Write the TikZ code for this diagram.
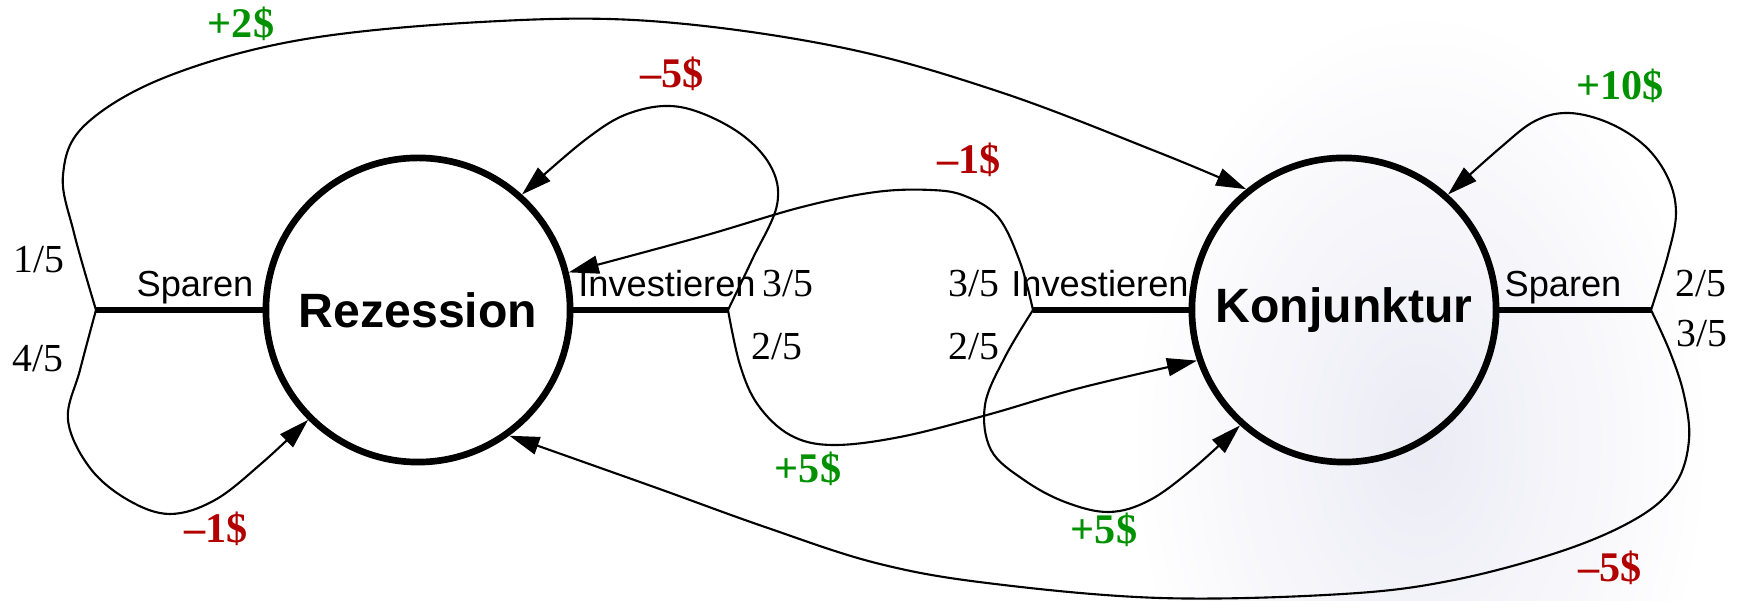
\documentclass[tikz,border=0pt]{standalone}
\usepackage{fontspec}
\setmainfont{Liberation Serif}
\setsansfont{Liberation Sans}
\usetikzlibrary{arrows.meta}
\definecolor{gaingreen}{RGB}{0,145,0}
\definecolor{lossred}{RGB}{178,0,0}
\definecolor{bgtex}{RGB}{235,235,245}
\tikzset{
mkstate/.style={circle,draw,line width=1.9pt,minimum size=3.04cm,inner sep=0pt,font=\sffamily\bfseries\fontsize{13.7}{16}\selectfont},
mkbranch/.style={line width=1.7pt},
mkarr/.style={-{Triangle[length=3mm,width=1.8mm]},line width=0.6pt},
mkaction/.style={anchor=base,inner sep=0pt,font=\sffamily\fontsize{10.3}{12}\selectfont},
mkprob/.style={anchor=base,inner sep=0pt,font=\fontsize{11.3}{13}\selectfont},
mkgain/.style={anchor=base,inner sep=0pt,text=gaingreen,font=\bfseries\fontsize{12}{14}\selectfont},
mkloss/.style={mkgain,text=lossred},
mkbg/.style={inner color=bgtex,outer color=white,draw=none}
}
\begin{document}
\begin{tikzpicture}[x=0.01cm,y=-0.01cm]
\useasboundingbox (0,0) rectangle (1738,601);
% faint backdrop
\shade[mkbg] (1420,440) ellipse (290 and 430);

% states
\node[mkstate] (rez) at (418,310) {Rezession};
\node[mkstate] (kon) at (1344,310) {Konjunktur};

% branch points of the actions
\coordinate (rezL) at (96,310);
\coordinate (rezR) at (728,310);
\coordinate (konL) at (1033,310);
\coordinate (konR) at (1651,310);
\draw[mkbranch] (rezL) -- (rez.west);
\draw[mkbranch] (rez.east) -- (rezR);
\draw[mkbranch] (konL) -- (kon.west);
\draw[mkbranch] (kon.east) -- (konR);

% action names
\node[mkaction] (sparRez) at (195,297) {Sparen};
\node[mkaction] (invRez) at (667,297) {Investieren};
\node[mkaction] (invKon) at (1100,297) {Investieren};
\node[mkaction] (sparKon) at (1563,297) {Sparen};

% probabilities
\node[mkprob] (pSR1) at (39,273) {1/5};
\node[mkprob] (pSR2) at (38,372) {4/5};
\node[mkprob] (pIR1) at (788,297) {3/5};
\node[mkprob] (pIR2) at (777,360) {2/5};
\node[mkprob] (pIK1) at (974,297) {3/5};
\node[mkprob] (pIK2) at (974,360) {2/5};
\node[mkprob] (pSK1) at (1701,297) {2/5};
\node[mkprob] (pSK2) at (1702,347) {3/5};

% rewards
\node[mkgain] (rSR1) at (241,38) {+2\$};
\node[mkloss] (rSR2) at (216,543) {–1\$};
\node[mkloss] (rIR1) at (672,88) {–5\$};
\node[mkgain] (rIR2) at (808,483) {+5\$};
\node[mkloss] (rIK1) at (969,174) {–1\$};
\node[mkgain] (rIK2) at (1104,544) {+5\$};
\node[mkgain] (rSK1) at (1620,100) {+10\$};
\node[mkloss] (rSK2) at (1610,582) {–5\$};

% transitions
\draw[mkarr] plot[smooth,tension=0.6] coordinates {(rezL) (74,233) (63,175) (85,125) (166,77) (300,40) (481,22) (650,21) (839,47) (1000,92) (1160,153) (kon.129)};
\draw[mkarr] plot[smooth,tension=0.6] coordinates {(rezL) (80,370) (68,420) (90,468) (128,500) (170,514) (215,500) (262,463) (rez.225)};
\draw[mkarr] plot[smooth,tension=0.6] coordinates {(rezR) (752,260) (777,205) (770,165) (735,130) (680,107) (630,113) (585,140) (rez.48)};
\draw[mkarr] plot[smooth,tension=0.6] coordinates {(rezR) (740,365) (758,405) (790,435) (832,445) (900,437) (987,415) (1080,388) (kon.199)};
\draw[mkarr] plot[smooth,tension=0.6] coordinates {(konL) (1020,262) (998,217) (965,196) (931,190) (876,192) (802,207) (700,237) (rez.14)};
\draw[mkarr] plot[smooth,tension=0.6] coordinates {(konL) (1005,357) (985,405) (991,450) (1024,480) (1065,502) (1109,512) (1150,500) (1195,467) (kon.228)};
\draw[mkarr] plot[smooth,tension=0.6] coordinates {(konR) (1668,255) (1676,213) (1668,178) (1645,146) (1609,123) (1569,113) (1535,121) (1500,148) (kon.48)};
\draw[mkarr] plot[smooth,tension=0.6] coordinates {(konR) (1670,352) (1684,395) (1689,440) (1676,483) (1639,517) (1565,550) (1454,580) (1343,594) (1160,598) (987,583) (876,563) (765,527) (654,487) (rez.306)};
\end{tikzpicture}
\end{document}
